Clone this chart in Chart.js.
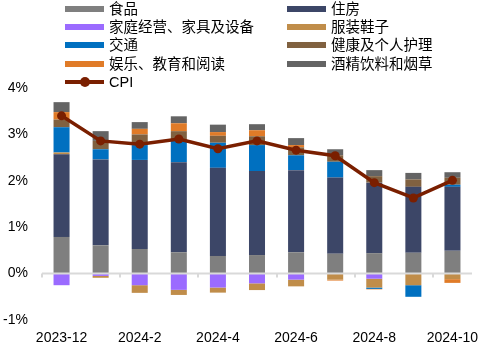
<!DOCTYPE html>
<html>
<head>
<meta charset="utf-8">
<script src="https://cdn.jsdelivr.net/npm/chart.js@4"></script>
<style>
  body { margin: 0; background: #fff; }
  #wrap { position: relative; width: 488px; height: 349px; }
  #cpiChart { position: absolute; left: 0; top: 0; }
  .legend { position: absolute; font-family: "Liberation Sans", "Noto Sans CJK SC", sans-serif; font-size: 14.5px; color: #000; }
  .item { position: absolute; height: 18px; line-height: 18px; white-space: nowrap; }
  .item .sw { position: absolute; left: 0; top: 6px; width: 39px; height: 6px; }
  .item .txt { position: absolute; left: 44px; top: 0; }
  .item .dot { position: absolute; left: 15px; top: 4px; width: 10px; height: 10px; border-radius: 50%; }
</style>
</head>
<body>
<div id="wrap">
  <canvas id="cpiChart" width="488" height="349"></canvas>
  <div class="legend" id="legend"></div>
</div>
<script>
const months = ["2023-12", "2024-1", "2024-2", "2024-3", "2024-4", "2024-5",
  "2024-6", "2024-7", "2024-8", "2024-9", "2024-10"]

// contributions to yoy CPI, percentage points
const food      = [0.79, 0.61, 0.53, 0.46, 0.38, 0.40, 0.46, 0.43, 0.44, 0.45, 0.49]
const housing   = [1.78, 1.85, 1.92, 1.94, 1.90, 1.81, 1.77, 1.64, 1.52, 1.42, 1.38]
const household = [-0.25, -0.05, -0.25, -0.35, -0.30, -0.21, -0.13, 0, -0.11, 0, 0]
const apparel   = [0.04, -0.04, -0.165, -0.11, -0.11, -0.145, -0.145, -0.13, -0.19, -0.25, -0.12]
const transport = [0.545, 0.22, 0.32, 0.47, 0.54, 0.56, 0.32, 0.34, -0.03, -0.25, 0.045]
const health    = [0.165, 0.18, 0.23, 0.20, 0.15, 0.19, 0.17, 0.14, 0.14, 0.16, 0.15]
const leisure   = [0.16, 0, 0.12, 0.17, 0.08, 0.13, 0.05, -0.02, -0.01, 0, -0.08]
const alcohol   = [0.215, 0.21, 0.145, 0.15, 0.16, 0.13, 0.15, 0.13, 0.13, 0.14, 0.12]
const cpi       = [3.40, 2.86, 2.79, 2.90, 2.69, 2.86, 2.66, 2.54, 1.96, 1.63, 2.01]

const yTicks = [-1, 0, 1, 2, 3, 4]

const series = [
  { name: "食品", data: food, color: "#7f7f7f" },
  { name: "住房", data: housing, color: "#3c4667" },
  { name: "家庭经营、家具及设备", data: household, color: "#9b6bff" },
  { name: "服装鞋子", data: apparel, color: "#c08d4a" },
  { name: "交通", data: transport, color: "#0070c0" },
  { name: "健康及个人护理", data: health, color: "#806140" },
  { name: "娱乐、教育和阅读", data: leisure, color: "#e07b28" },
  { name: "酒精饮料和烟草", data: alcohol, color: "#646464" }
]
const cpiColor = "#7a1f00"

// legend, two columns
const legend = document.getElementById("legend")
series.forEach((s, i) => {
  const col = i % 2, row = Math.floor(i / 2)
  const el = document.createElement("div")
  el.className = "item"
  el.style.left = (col ? 287 : 65) + "px"
  el.style.top = (row * 18.2) + "px"
  el.innerHTML = '<span class="sw" style="background:' + s.color + '"></span><span class="txt">' + s.name + '</span>'
  legend.appendChild(el)
})
const cpiItem = document.createElement("div")
cpiItem.className = "item"
cpiItem.style.left = "65px"
cpiItem.style.top = (4 * 18.2) + "px"
cpiItem.innerHTML = '<span class="sw" style="background:' + cpiColor + ';height:4px;top:7px"></span>' +
  '<span class="dot" style="background:' + cpiColor + '"></span><span class="txt">CPI</span>'
legend.appendChild(cpiItem)

// zero line with tick marks every two months
const zeroLine = {
  id: "zeroLine",
  afterDatasetsDraw(chart) {
    const { ctx, scales: { x, y }, chartArea } = chart
    const y0 = y.getPixelForValue(0)
    const half = (x.getPixelForValue(1) - x.getPixelForValue(0)) / 2
    ctx.save()
    ctx.strokeStyle = "#d9d9d9"
    ctx.lineWidth = 2
    ctx.beginPath()
    ctx.moveTo(chartArea.left, y0)
    ctx.lineTo(chartArea.right, y0)
    for (let i = 0; i < months.length; i += 2) {
      const px = Math.round(x.getPixelForValue(i) - half)
      ctx.moveTo(px, y0)
      ctx.lineTo(px, y0 + 4)
    }
    ctx.stroke()
    ctx.restore()
  }
}

const datasets = [{
  type: "line",
  label: "CPI",
  data: cpi,
  stack: "cpi",
  borderColor: cpiColor,
  backgroundColor: cpiColor,
  borderWidth: 3.5,
  pointRadius: 4.5,
  pointBackgroundColor: cpiColor,
  pointBorderWidth: 0,
  tension: 0
}]
series.forEach(s => datasets.push({
  type: "bar",
  label: s.name,
  data: s.data,
  stack: "items",
  backgroundColor: s.color,
  categoryPercentage: 1,
  barPercentage: 0.41
}))

new Chart(document.getElementById("cpiChart"), {
  data: { labels: months, datasets: datasets },
  options: {
    responsive: false,
    animation: false,
    layout: { padding: { top: 88, right: 16, left: 0, bottom: 0 } },
    scales: {
      x: {
        stacked: true,
        grid: { display: false },
        border: { display: false },
        afterFit: s => { s.height = 29 },
        ticks: {
          autoSkip: false,
          maxRotation: 0,
          padding: 2,
          color: "#000",
          font: { family: "Liberation Sans", size: 14 },
          callback: (v, i) => i % 2 === 0 ? months[i] : ""
        }
      },
      y: {
        stacked: true,
        min: -1,
        max: 4,
        grid: { display: false },
        border: { display: false },
        afterFit: s => { s.width = 42 },
        afterBuildTicks: s => { s.ticks = yTicks.map(v => ({ value: v })) },
        ticks: {
          padding: 6,
          color: "#000",
          font: { family: "Liberation Sans", size: 14 },
          callback: v => v + "%"
        }
      }
    },
    plugins: {
      legend: { display: false },
      tooltip: { enabled: false }
    }
  },
  plugins: [zeroLine]
})
</script>
</body>
</html>
